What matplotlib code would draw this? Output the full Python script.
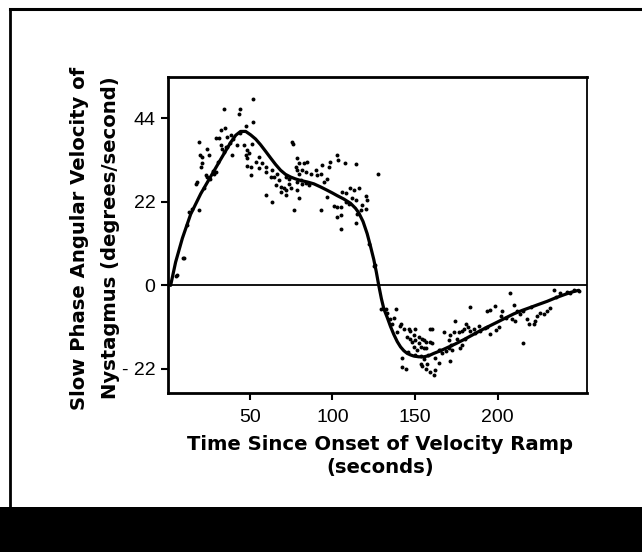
import matplotlib
matplotlib.use("Agg")
import matplotlib.pyplot as plt
from matplotlib.patches import Rectangle
from matplotlib.lines import Line2D

plt.rcParams['font.family'] = ['Liberation Sans', 'DejaVu Sans']

# individual slow-phase velocity samples (seconds, deg/s)
sec_pos = [5.2, 6.2, 9.5, 10.2, 12, 13.2, 15, 19.2, 17.2, 18.3, 20.3, 21.3, 19.6, 21.3, 22, 25.3,
           24.3, 19.2, 23.3, 24.3, 26, 28, 28.3, 29.3, 29.7, 31.3, 31, 32.3, 34.8, 36.4, 38.4,
           32.3, 33.4, 34.3, 35.4, 36, 38, 39.4, 40, 44, 34.4, 43.8, 43.4, 51.9, 51.9, 47.5,
           42.4, 46.4, 48.5, 49.5, 47.5, 48.5, 51.5, 48.5, 50.5, 53.5, 55.5, 57.6, 59.6, 50.5,
           55.5, 59.6, 63.6, 62.6, 59.6, 63.2, 65.6, 67.6, 68.6, 70.6, 71.6, 72, 73.6, 74,
           75.7, 76.3, 76.7, 77.7, 79.7, 78.7, 80.7, 81.7, 78.3, 78.7, 79.7, 82.7, 84.3,
           81.7, 83.7, 84, 86, 86.8, 89.8, 90.8, 92.8, 93.8, 97.8, 98.8, 102.5, 103.3, 107.3,
           114.2, 127.5, 94.8, 96.9, 64.6, 66.6, 68.6, 71.6, 74.7, 78.7, 79.7, 92.8, 96.9,
           100.8, 102.9, 104.9, 102.9, 104.9, 105.9, 107.9, 108, 110, 110.9, 112.9, 116, 111.9,
           114, 120, 121, 118, 115, 117, 105.3, 114.1, 120, 122, 125, 125.9]
vel_pos = [2.5, 2.8, 7.1, 7.2, 16, 19.3, 20, 19.8, 26.8, 27.2, 31.2, 32.1, 34.4, 33.8, 25.5, 34.3,
           36, 37.6, 29, 28.6, 28, 30, 29.4, 29.9, 38.7, 38.7, 32.5, 40.8, 41.3, 39.1, 39.5,
           36.9, 36, 35.1, 36.4, 36.5, 37.5, 34.4, 38.5, 40, 46.5, 46.4, 45.2, 49.0, 42.9, 42,
           36.9, 36.9, 35.6, 34.7, 34.3, 33.4, 37.3, 31.4, 31.2, 32.5, 33.8, 32.1, 31.2, 29,
           30.8, 29.9, 30.3, 28.6, 23.7, 22, 26.4, 27.7, 24.6, 25.5, 23.7, 28.5, 26.8, 28,
           37.8, 37.2, 19.8, 31.2, 32.1, 27.2, 27.7, 26.8, 33.4, 30.3, 29.4, 32.1, 32.5,
           30.3, 29.9, 27, 26.5, 29.4, 30.3, 29, 29.4, 31.6, 31.2, 32.5, 34.3, 33.1, 32.1,
           31.8, 29.4, 27.2, 27.9, 28.6, 29.4, 25.9, 25.1, 25.5, 25.1, 22.9, 19.8, 23.3,
           20.8, 20.5, 20.7, 18, 18.5, 24.6, 24.2, 22, 21.5, 25.5, 25.1, 25.5, 22.9,
           22.4, 23.5, 22.4, 21.1, 18.9, 19.8, 14.7, 16.3, 20.2, 11, 5.2, 5.4]

sec_neg = [129.1, 133.1, 132.1, 138.2, 137.1, 135.1, 136.1, 141.1, 143.2, 139.2, 141.2, 147.2,
           150.2, 146.2, 145.2, 147.2, 152.2, 155.3, 159.2, 160.3, 153.3, 156.3, 149.2, 148.2,
           149.2, 150.2, 152.2, 154.3, 156.3, 159.3, 151.3, 155.3, 142.2, 144.2, 142.2, 153.3,
           155.3, 157.3, 154.3, 156.3, 159.3, 161.3, 162.3, 153.3, 162.3, 164.3, 171.4, 164.3,
           166.4, 168.4, 170.4, 172.4, 177.4, 178.5, 167.4, 171.4, 173.4, 176.4, 178.5, 179.4,
           170.4, 175.5, 160.3, 174.4, 180.5, 181.9, 183.5, 185.5, 183.1, 193.6, 195.6, 198.6,
           202.7, 202, 188.5, 189.5, 193.6, 195.6, 199.2, 200.6, 207.7, 209.7, 211.7, 213.7,
           208.7, 210.7, 217.8, 218.8, 221.8, 222.8, 223.8, 225.8, 227.8, 229.9, 231.9, 215.4,
           233.8, 237.9, 241.9, 246, 249, 235.5, 244, 146, 150, 158, 165, 172, 180, 186, 192,
           205, 215, 220]
vel_neg = [-6.3, -7.2, -6.3, -6.3, -8.5, -8.9, -10.2, -10.6, -11.4, -12.3, -10.2, -11.9,
           -11.4, -11.4, -13.5, -14, -13.5, -14.4, -11.4, -15.2, -16.1, -16.5, -16.1, -14.8,
           -13.1, -14.4, -15.2, -14, -14.8, -14.8, -16.9, -16.5, -19.1, -22, -21.6, -18.6,
           -19.5, -20.7, -21.2, -22, -22.8, -23.7, -22.4, -20.7, -19.1, -20.3, -19.9, -16.9,
           -17.8, -17.4, -16.5, -16.9, -16.5, -15.7, -12.3, -13.1, -12.3, -12.3, -11.9, -11.4,
           -14.4, -14, -11.4, -9.3, -10.2, -11, -11.9, -11.4, -5.8, -6.8, -6.4, -5.5,
           -6.8, -8, -10.6, -11.9, -11, -12.7, -11.7, -11, -1.9, -5.1, -6.8, -7.6,
           -8.9, -9.3, -8.9, -10.2, -10.2, -9.3, -8, -7.2, -7.6, -6.8, -6, -15.2,
           -1.3, -2.1, -1.7, -1.3, -1.5, -3, -2, -17.5, -18.3, -18.3, -17, -15.8, -14, -12.6, -11.2,
           -8.5, -6.8, -5.6]

# smoothed fit
fit_sec = [2.1, 5.1, 9.2, 14.2, 20.3, 26.3, 32.3, 38.4, 41.5, 44.4, 47.5, 50.5, 53.5, 56.5, 59.5,
           62.6, 65.6, 68.6, 71.6, 74.7, 77.7, 80.7, 84.8, 88.8, 92.8, 96.9, 100, 102.9, 106.9,
           110.9, 113.9, 115.9, 118.5, 121, 123, 125, 126.5, 128, 129.6, 131.1, 133.1, 135.1,
           137.1, 139.2, 141.2, 143.2, 145.2, 147.2, 149.2, 152.3, 155.3, 158.3, 161.3, 165.4,
           169.4, 174.4, 179.4, 184.5, 189.5, 194.5, 199.6, 204.6, 209.7, 214.7, 219.8, 224.8,
           229.9, 234.9, 239.9, 244.5, 249]
fit_vel = [0, 6.1, 12.4, 18.7, 24.1, 28.6, 33.1, 37.6, 39.5, 40.5, 40.5, 39.6, 38.5, 37.0, 35.3,
           33.5, 31.8, 30.3, 29.2, 28.5, 28.0, 27.6, 27.2, 26.7, 25.9, 25.0, 24.3, 23.6, 22.7,
           21.6, 20.3, 19.1, 16.8, 13.6, 10.3, 6.8, 3.6, 0, -3.5, -6.2, -8.4, -10.8,
           -12.9, -14.8, -16.2, -17.2, -17.9, -18.3, -18.6, -18.8, -18.8, -18.5, -17.9, -17.2,
           -16.4, -15.4, -14.3, -13.1, -11.9, -10.8, -9.7, -8.6, -7.5, -6.6, -5.8, -5.0,
           -4.2, -3.3, -2.5, -1.8, -1.3]

yticks = [44, 22, 0, -22]
ytick_labels = ['44', '22', '0', '- 22']
xticks = [50, 100, 150, 200]

fig = plt.figure(figsize=(6.42, 5.52), dpi=100)
W, H = 642.0, 552.0

# page frame and black bar at the bottom (scanned page look)
fig.add_artist(Line2D([10 / W, 10 / W], [0.08, 1 - 9 / H], transform=fig.transFigure,
                      color='black', lw=2))
fig.add_artist(Line2D([10 / W, 1.0], [1 - 9 / H, 1 - 9 / H], transform=fig.transFigure,
                      color='black', lw=2.2))
fig.add_artist(Rectangle((0, 0), 1, 45 / H, transform=fig.transFigure,
                         facecolor='black', edgecolor='none'))

ax = fig.add_axes([168 / W, 1 - 393.3 / H, (587 - 168) / W, (393.3 - 76.7) / H])

ax.axhline(0, color='black', lw=1.3, zorder=1)
ax.scatter(sec_pos + sec_neg, vel_pos + vel_neg, s=8, color='black', linewidths=0, zorder=2)
ax.plot(fit_sec, fit_vel, color='black', lw=2.3, zorder=3, solid_capstyle='round')

ax.set_xlim(0.5, 254)
ax.set_ylim(-28.4, 54.9)
ax.set_xticks(xticks)
ax.set_yticks(yticks)
ax.set_yticklabels(ytick_labels)
ax.tick_params(direction='out', length=5, width=1.5, labelsize=14, pad=4)
ax.tick_params(axis='x', pad=6)
for side in ['left', 'bottom', 'top']:
    ax.spines[side].set_linewidth(2)
ax.spines['right'].set_linewidth(1.3)

label_font = dict(family='DejaVu Sans', fontsize=14.1, fontweight='bold')
fig.text(80 / W, 1 - 238 / H, 'Slow Phase Angular Velocity of', rotation=90,
         ha='center', va='center', **label_font)
fig.text(110.5 / W, 1 - 238 / H, 'Nystagmus (degrees/second)', rotation=90,
         ha='center', va='center', **label_font)
fig.text(380 / W, 1 - 445 / H, 'Time Since Onset of Velocity Ramp',
         ha='center', va='center', **label_font)
fig.text(380 / W, 1 - 468 / H, '(seconds)',
         ha='center', va='center', **label_font)

fig.savefig('out.png', dpi=100)
